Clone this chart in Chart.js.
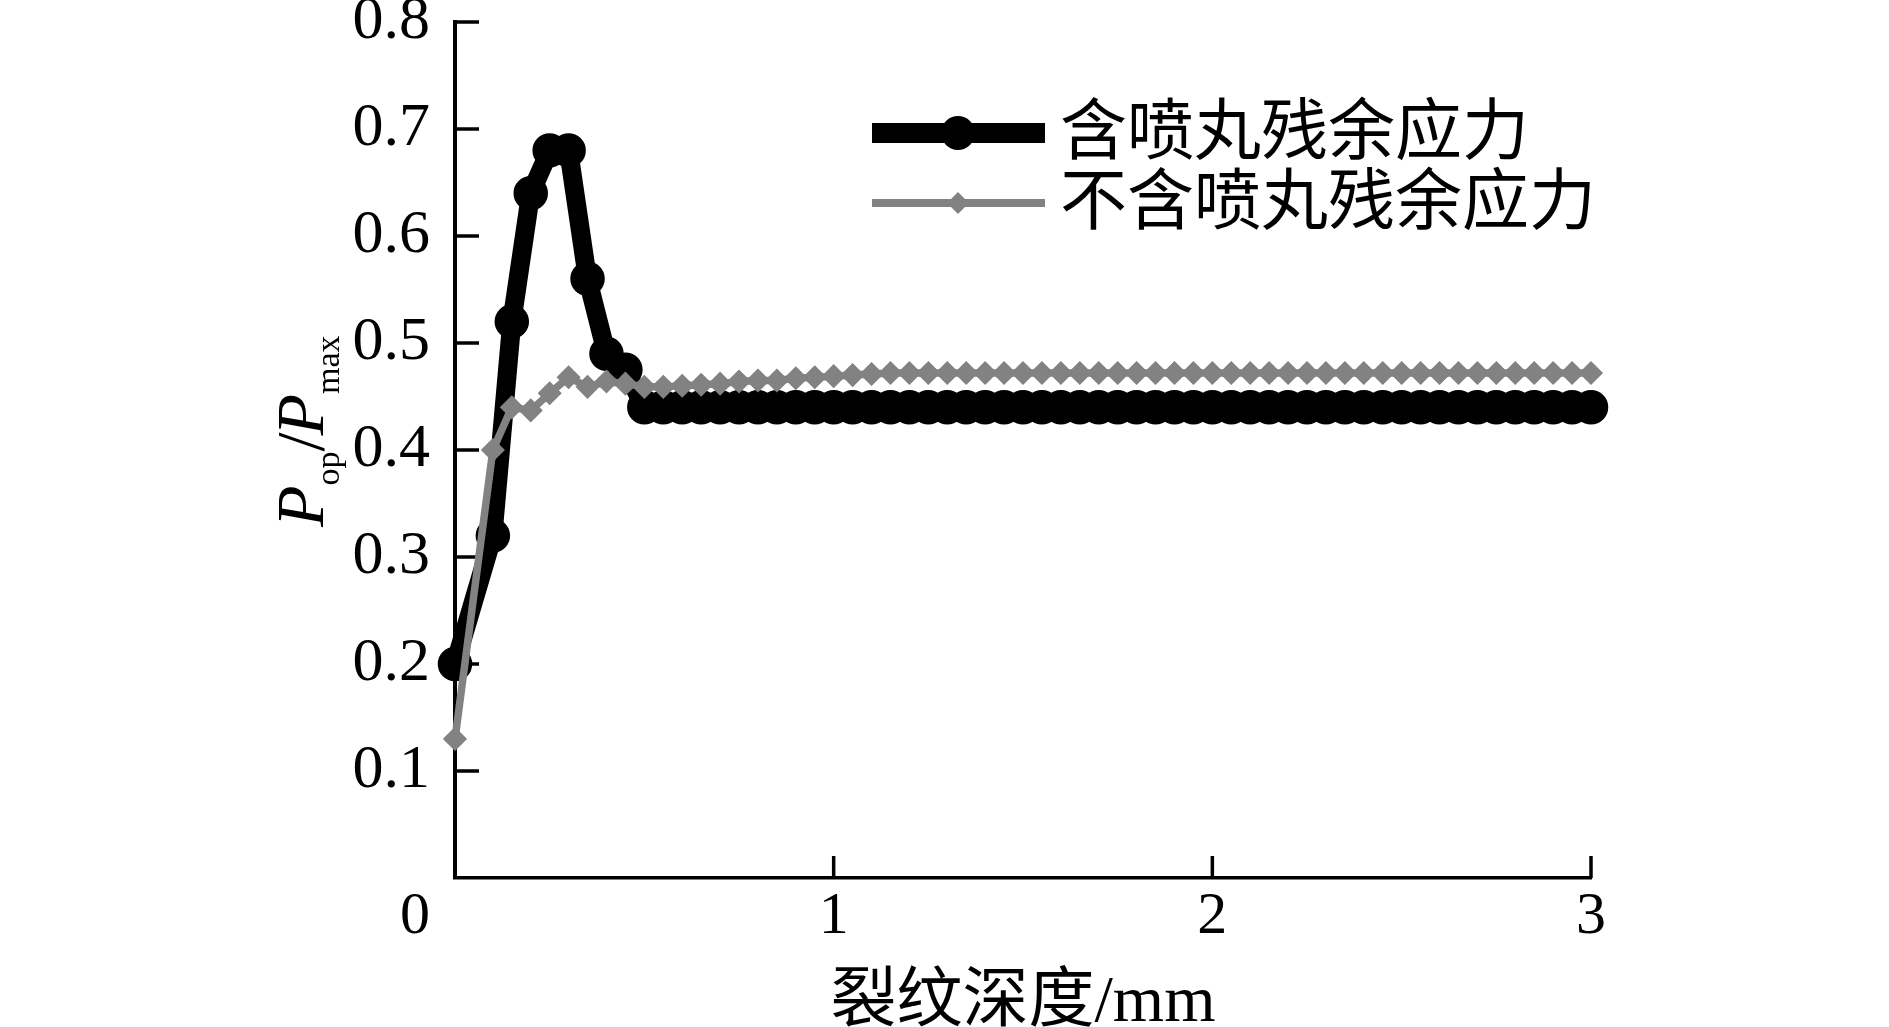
<!DOCTYPE html>
<html>
<head>
<meta charset="utf-8">
<script src="https://cdn.jsdelivr.net/npm/chart.js@4.4.0/dist/chart.umd.min.js"></script>
<style>
html,body{margin:0;padding:0;background:#fff;overflow:hidden}
#wrap{width:1889px;height:1027px;position:relative;background:#fff}
</style>
</head>
<body>
<div id="wrap"><canvas id="c" width="1889" height="1027"></canvas></div>
<script>
// ---- data ----
const depth = [0, 0.1, 0.15, 0.2, 0.25, 0.3, 0.35, 0.4, 0.45, 0.5,
  0.55, 0.6, 0.65, 0.7, 0.75, 0.8, 0.85, 0.9, 0.95, 1.0,
  1.05, 1.1, 1.15, 1.2, 1.25, 1.3, 1.35, 1.4, 1.45, 1.5,
  1.55, 1.6, 1.65, 1.7, 1.75, 1.8, 1.85, 1.9, 1.95, 2.0,
  2.05, 2.1, 2.15, 2.2, 2.25, 2.3, 2.35, 2.4, 2.45, 2.5,
  2.55, 2.6, 2.65, 2.7, 2.75, 2.8, 2.85, 2.9, 2.95, 3.0];
const withPeening = [0.20, 0.32, 0.52, 0.64, 0.68, 0.68, 0.56, 0.49, 0.475, 0.44,
  0.44, 0.44, 0.44, 0.44, 0.44, 0.44, 0.44, 0.44, 0.44, 0.44,
  0.44, 0.44, 0.44, 0.44, 0.44, 0.44, 0.44, 0.44, 0.44, 0.44,
  0.44, 0.44, 0.44, 0.44, 0.44, 0.44, 0.44, 0.44, 0.44, 0.44,
  0.44, 0.44, 0.44, 0.44, 0.44, 0.44, 0.44, 0.44, 0.44, 0.44,
  0.44, 0.44, 0.44, 0.44, 0.44, 0.44, 0.44, 0.44, 0.44, 0.44];
const withoutPeening = [0.13, 0.40, 0.44, 0.437, 0.453, 0.468, 0.459, 0.464, 0.462, 0.459,
  0.459, 0.460, 0.461, 0.462, 0.464, 0.465, 0.465, 0.467, 0.468, 0.469,
  0.470, 0.471, 0.472, 0.472, 0.472, 0.472, 0.472, 0.472, 0.472, 0.472,
  0.472, 0.472, 0.472, 0.472, 0.472, 0.472, 0.472, 0.472, 0.472, 0.472,
  0.472, 0.472, 0.472, 0.472, 0.472, 0.472, 0.472, 0.472, 0.472, 0.472,
  0.472, 0.472, 0.472, 0.472, 0.472, 0.472, 0.472, 0.472, 0.472, 0.472];
const seriesLabels = ['含喷丸残余应力', '不含喷丸残余应力'];
const xTickValues = [0, 1, 2, 3];
const xTickLabels = ['0', '1', '2', '3'];
const yTickValues = [0.1, 0.2, 0.3, 0.4, 0.5, 0.6, 0.7, 0.8];
const yTickLabels = ['0.1', '0.2', '0.3', '0.4', '0.5', '0.6', '0.7', '0.8'];
const xTitle = '裂纹深度/mm';

const SERIF = '"Liberation Serif", "Times New Roman", serif';
const CJK = '"Liberation Serif", "Noto Sans CJK SC", sans-serif';

// ---- plugins ----
const inwardTicks = {
  id: 'inwardTicks',
  beforeDatasetsDraw(chart) {
    const {ctx, chartArea: a} = chart;
    const x = chart.scales.x, y = chart.scales.y;
    ctx.save();
    ctx.strokeStyle = '#000';
    ctx.lineWidth = 3.5;
    y.ticks.forEach(t => {
      const py = y.getPixelForValue(t.value);
      ctx.beginPath(); ctx.moveTo(a.left, py); ctx.lineTo(a.left + 24, py); ctx.stroke();
    });
    x.ticks.forEach(t => {
      const px = x.getPixelForValue(t.value);
      ctx.beginPath(); ctx.moveTo(px, a.bottom); ctx.lineTo(px, a.bottom - 22); ctx.stroke();
    });
    // shared origin label
    ctx.fillStyle = '#000';
    ctx.font = '60px ' + SERIF;
    ctx.textAlign = 'center';
    ctx.textBaseline = 'middle';
    ctx.fillText(xTickLabels[0], x.getPixelForValue(xTickValues[0]) - 40, a.bottom + 3 + 36);
    ctx.restore();
  }
};

function drawMarker(ctx, style, cx, cy, r) {
  ctx.beginPath();
  if (style === 'rectRot') {
    ctx.moveTo(cx, cy - r); ctx.lineTo(cx + r, cy); ctx.lineTo(cx, cy + r); ctx.lineTo(cx - r, cy); ctx.closePath();
  } else {
    ctx.arc(cx, cy, r, 0, Math.PI * 2);
  }
  ctx.fill();
}

const customLegendAndTitle = {
  id: 'customLegendAndTitle',
  afterDraw(chart) {
    const {ctx, chartArea: a} = chart;
    ctx.save();
    // legend
    const rows = [a.top + 111, a.top + 181];
    chart.data.datasets.forEach((ds, i) => {
      const yy = rows[i];
      const x1 = a.left + 417, x2 = a.left + 590, xm = a.left + 503;
      ctx.strokeStyle = ds.borderColor;
      ctx.lineWidth = ds.legendLineWidth;
      ctx.lineCap = 'butt';
      ctx.beginPath(); ctx.moveTo(x1, yy); ctx.lineTo(x2, yy); ctx.stroke();
      ctx.fillStyle = ds.backgroundColor;
      drawMarker(ctx, ds.pointStyle, xm, yy, ds.legendMarkerRadius);
      ctx.fillStyle = '#000';
      ctx.font = '67px "Noto Sans CJK SC", sans-serif';
      ctx.textAlign = 'left';
      ctx.textBaseline = 'middle';
      ctx.fillText(ds.label, a.left + 605, yy - 4);
    });
    // y-axis title  P_op / P_max (rotated)
    ctx.translate(a.left - 132, (a.top + a.bottom) / 2 + 77);
    ctx.rotate(-Math.PI / 2);
    ctx.fillStyle = '#000';
    ctx.textAlign = 'left';
    ctx.textBaseline = 'alphabetic';
    const parts = [
      ['P', 'italic 68px ' + SERIF, 0, 0],
      ['op', '34px ' + SERIF, 16, 0],
      ['/', '68px ' + SERIF, 0, -3],
      ['P', 'italic 68px ' + SERIF, 0, 0],
      ['max', '34px ' + SERIF, 16, 0]
    ];
    let cx = 0;
    parts.forEach(([t, f, dy, kern]) => {
      ctx.font = f;
      ctx.fillText(t, cx, dy);
      cx += ctx.measureText(t).width + kern;
    });
    ctx.restore();
  }
};

// ---- chart ----
new Chart(document.getElementById('c'), {
  type: 'line',
  data: {
    datasets: [
      {
        label: seriesLabels[0],
        data: depth.map((d, i) => ({x: d, y: withPeening[i]})),
        borderColor: '#000000',
        backgroundColor: '#000000',
        borderWidth: 19,
        pointStyle: 'circle',
        pointRadius: 16.5,
        pointBorderWidth: 1.5,
        pointBackgroundColor: '#000000',
        pointBorderColor: '#000000',
        tension: 0,
        clip: false,
        order: 1,
        legendLineWidth: 20,
        legendMarkerRadius: 17
      },
      {
        label: seriesLabels[1],
        data: depth.map((d, i) => ({x: d, y: withoutPeening[i]})),
        borderColor: '#828282',
        backgroundColor: '#828282',
        borderWidth: 7.5,
        pointStyle: 'rectRot',
        pointRadius: 11,
        pointBorderWidth: 1.5,
        pointBackgroundColor: '#828282',
        pointBorderColor: '#828282',
        tension: 0,
        clip: false,
        order: 0,
        legendLineWidth: 8,
        legendMarkerRadius: 11
      }
    ]
  },
  options: {
    responsive: false,
    devicePixelRatio: 1,
    animation: false,
    events: [],
    layout: {padding: {left: 0, top: 22, right: 298, bottom: 0}},
    plugins: {legend: {display: false}, tooltip: {enabled: false}, title: {display: false}},
    scales: {
      x: {
        type: 'linear',
        min: 0, max: 3,
        grid: {display: false, drawTicks: false},
        border: {display: true, color: '#000', width: 3.5},
        afterBuildTicks: s => { s.ticks = xTickValues.slice(1).map(v => ({value: v})); },
        afterFit: s => { s.height = 149; s.paddingLeft = 0; s.paddingRight = 0; },
        ticks: {
          color: '#000', padding: 3, maxRotation: 0, autoSkip: false,
          font: {family: SERIF, size: 60},
          callback: (v, i) => xTickLabels[i + 1]
        },
        title: {
          display: true, text: xTitle, color: '#000',
          font: {family: CJK, size: 66, lineHeight: 0.72},
          padding: {top: 0, bottom: 0}
        }
      },
      y: {
        type: 'linear',
        min: 0, max: 0.8,
        grid: {display: false, drawTicks: false},
        border: {display: true, color: '#000', width: 4},
        afterBuildTicks: s => { s.ticks = yTickValues.map(v => ({value: v})); },
        afterFit: s => { s.width = 455; s.paddingTop = 0; s.paddingBottom = 0; },
        ticks: {
          color: '#000', padding: 25, autoSkip: false,
          font: {family: SERIF, size: 62},
          callback: (v, i) => yTickLabels[i]
        }
      }
    }
  },
  plugins: [inwardTicks, customLegendAndTitle]
});
</script>
</body>
</html>
